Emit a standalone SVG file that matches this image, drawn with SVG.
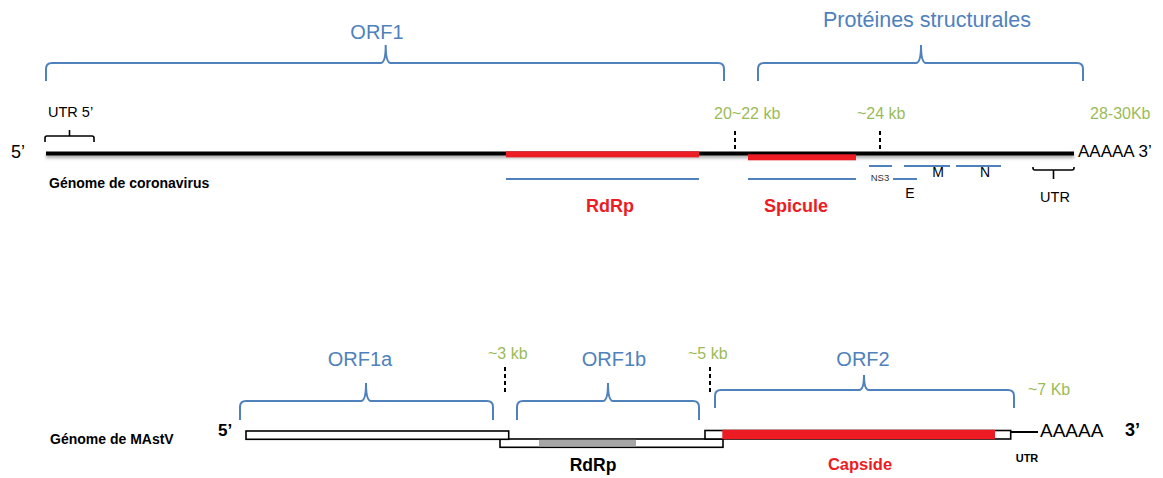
<svg xmlns="http://www.w3.org/2000/svg" width="1163" height="478" viewBox="0 0 1163 478">
<defs>
<filter id="sh" filterUnits="userSpaceOnUse" x="30" y="140" width="1060" height="30">
<feDropShadow dx="0" dy="2.5" stdDeviation="1.5" flood-color="#000" flood-opacity="0.35"/>
</filter>
</defs>
<style>
text{font-family:"Liberation Sans",Arial,sans-serif}
.orf{fill:#4F81BD;font-size:20px}
.kb{fill:#9BBB59;font-size:16px}
.brace{fill:none;stroke:#4F81BD;stroke-width:2}
.bk{fill:none;stroke:#000;stroke-width:1.6}
.dash{stroke:#000;stroke-width:2;stroke-dasharray:4 3}
.blue{stroke:#4F81BD;stroke-width:2}
.red{fill:#ED1C24}
.rlab{fill:#ED1C24;font-weight:bold;font-size:18px}
.lab{fill:#000;font-weight:bold;font-size:14px}
.box{fill:#fff;stroke:#000;stroke-width:1.6}
</style>
<rect width="1163" height="478" fill="#fff"/>

<g id="coronavirus">
<g id="orf1">
<path class="brace" d="M46,81 L46,69 Q46,63 52,63 L380.7,63 Q385.7,63 385.7,45 Q385.7,63 390.7,63 L718,63 Q724,63 724,69 L724,81"/>
<text class="orf" x="377" y="39" text-anchor="middle">ORF1</text>
</g>
<g id="proteines">
<path class="brace" d="M758,81 L758,69 Q758,63 764,63 L916,63 Q921,63 921,45 Q921,63 926,63 L1077,63 Q1083,63 1083,69 L1083,81"/>
<text class="orf" x="927" y="27" text-anchor="middle" style="font-size:21.5px">Protéines structurales</text>
</g>
<g id="utr5">
<path class="bk" d="M45,142 L45,138 Q45,136 47,136 L69.5,136 L69.5,130 M69.5,136 L92,136 Q94,136 94,138 L94,142"/>
<text x="48" y="117" style="font-size:14.5px">UTR 5’</text>
</g>
<text x="11" y="158" style="font-size:18px">5’</text>
<g id="genome1">
<rect x="46" y="151.5" width="1028" height="4" fill="#000" filter="url(#sh)"/>
<rect class="red" x="506" y="151.3" width="193" height="6"/>
<rect class="red" x="748" y="154.3" width="108" height="6"/>
</g>
<text x="1078" y="157" style="font-size:17px">AAAAA 3’</text>
<text class="lab" x="49" y="188">Génome de coronavirus</text>
<g id="kb-top">
<line class="dash" x1="735" y1="131" x2="735" y2="152"/>
<line class="dash" x1="880" y1="131" x2="880" y2="152"/>
<text class="kb" x="714" y="119">20~22 kb</text>
<text class="kb" x="857" y="119">~24 kb</text>
<text class="kb" x="1090" y="119">28-30Kb</text>
</g>
<g id="rdrp1">
<line class="blue" x1="506" y1="179" x2="699" y2="179"/>
<text class="rlab" x="610" y="212" text-anchor="middle">RdRp</text>
</g>
<g id="spicule">
<line class="blue" x1="748" y1="179" x2="856" y2="179"/>
<text class="rlab" x="796" y="212" text-anchor="middle">Spicule</text>
</g>
<g id="ns3">
<line class="blue" x1="869" y1="166" x2="892" y2="166"/>
<text x="880" y="181" text-anchor="middle" style="font-size:9.5px;fill:#333">NS3</text>
</g>
<g id="e">
<line class="blue" x1="893" y1="179" x2="917" y2="179"/>
<text x="910" y="198" text-anchor="middle" style="font-size:14px">E</text>
</g>
<g id="m">
<line class="blue" x1="904" y1="166" x2="950" y2="166"/>
<text x="938" y="177" text-anchor="middle" style="font-size:14px">M</text>
</g>
<g id="n">
<line class="blue" x1="956" y1="166" x2="1001" y2="166"/>
<text x="985" y="177" text-anchor="middle" style="font-size:14px">N</text>
</g>
<g id="utr3">
<path class="bk" d="M1033,167 L1033,168 Q1033,170 1035,170 L1053.5,170 L1053.5,179 M1053.5,170 L1072,170 Q1074,170 1074,168 L1074,167"/>
<text x="1055" y="202" text-anchor="middle" style="font-size:14.5px">UTR</text>
</g>
</g>

<g id="mastv">
<g id="orf1a">
<path class="brace" d="M240,420 L240,407 Q240,401 246,401 L361,401 Q366,401 366,383 Q366,401 371,401 L487,401 Q493,401 493,407 L493,420"/>
<text class="orf" x="360" y="366" text-anchor="middle">ORF1a</text>
</g>
<g id="orf1b">
<path class="brace" d="M517,420 L517,407 Q517,401 523,401 L603,401 Q608,401 608,383 Q608,401 613,401 L693,401 Q699,401 699,407 L699,420"/>
<text class="orf" x="614" y="366" text-anchor="middle">ORF1b</text>
</g>
<g id="orf2">
<path class="brace" d="M715,408 L715,396 Q715,390 721,390 L859,390 Q864,390 864,375 Q864,390 869,390 L1008,390 Q1014,390 1014,396 L1014,408"/>
<text class="orf" x="863" y="366" text-anchor="middle">ORF2</text>
</g>
<g id="kb-bottom">
<line class="dash" x1="505" y1="367" x2="505" y2="395"/>
<line class="dash" x1="710" y1="367" x2="710" y2="395"/>
<text class="kb" x="488" y="359">~3 kb</text>
<text class="kb" x="688" y="359">~5 kb</text>
<text class="kb" x="1028" y="395">~7 Kb</text>
</g>
<text class="lab" x="50" y="444">Génome de MAstV</text>
<text x="218" y="436" style="font-weight:bold;font-size:17px">5’</text>
<g id="genome2">
<rect class="box" x="500" y="439" width="223" height="8.3"/>
<rect x="539" y="439.8" width="97" height="6.7" fill="#A6A6A6"/>
<rect class="box" x="246" y="431" width="262.7" height="8.3"/>
<rect class="box" x="705" y="430.5" width="305.7" height="8.5"/>
<rect class="red" x="722.3" y="429.8" width="272.7" height="9.4"/>
<line x1="1010.7" y1="432" x2="1038" y2="432" stroke="#000" stroke-width="2"/>
</g>
<text x="1040" y="437" style="font-size:19px">AAAAA</text>
<text x="1125" y="436" style="font-weight:bold;font-size:18px">3’</text>
<text x="1027" y="462" text-anchor="middle" style="font-weight:bold;font-size:11px">UTR</text>
<text x="593" y="471" text-anchor="middle" style="font-weight:bold;font-size:17.5px">RdRp</text>
<text class="rlab" x="860" y="470" text-anchor="middle" style="font-size:16.5px">Capside</text>
</g>
</svg>
